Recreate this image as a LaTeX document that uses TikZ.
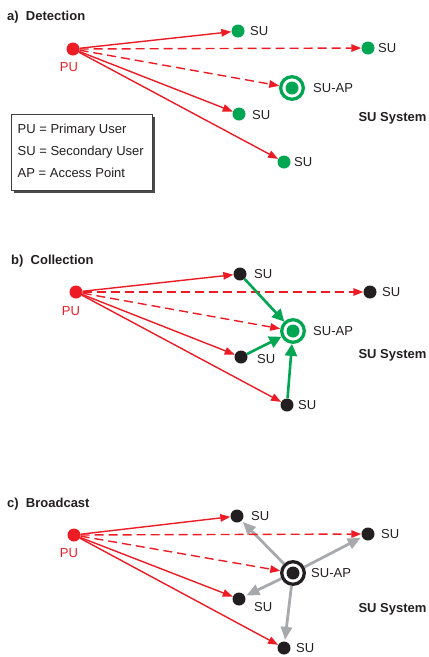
\documentclass[tikz,border=0pt]{standalone}
\usepackage{fontspec}
\setmainfont{Liberation Sans}
\usetikzlibrary{arrows.meta,shadows}
\definecolor{myred}{RGB}{237,28,36}
\definecolor{mygreen}{RGB}{0,166,81}
\definecolor{myblack}{RGB}{35,31,32}
\definecolor{mygray}{RGB}{167,169,172}
\begin{document}
\begin{tikzpicture}[x=1pt,y=-1pt,
  every node/.style={font=\fontsize{13}{15}\selectfont, inner sep=0pt},
  dotnode/.style={circle, minimum size=13pt, inner sep=0pt},
  pudot/.style={dotnode, fill=myred},
  gdot/.style={dotnode, fill=mygreen},
  kdot/.style={dotnode, fill=myblack},
  apring/.style={circle, minimum size=22.6pt, line width=3.3pt, inner sep=0pt},
  lbl/.style={anchor=west, text=myblack, text height=9.4pt, text depth=0pt},
  pulbl/.style={text=myred, text height=9.4pt, text depth=0pt},
  sys/.style={text=myblack, text height=9.4pt, text depth=0pt, font=\fontsize{13}{15}\selectfont\bfseries},
  ttl/.style={anchor=west, text=myblack, text height=9.4pt, text depth=0pt, font=\fontsize{13}{15}\selectfont\bfseries},
  legbox/.style={anchor=north west, draw=black!75, line width=0.8pt, fill=white, minimum width=141pt, minimum height=76pt,
    drop shadow={shadow xshift=3pt, shadow yshift=-3pt, fill=black!70, opacity=1}},
  rarrow/.style={draw=myred, line width=1.4pt, -{Triangle[length=10pt,width=7.5pt]}},
  rdash/.style={rarrow, dash pattern=on 9pt off 5pt},
  garrow/.style={draw=mygreen, line width=2.6pt, -{Triangle[length=12pt,width=12pt]}},
  karrow/.style={draw=mygray, line width=2.8pt, -{Triangle[length=13pt,width=11pt]}, shorten >=1.5pt},
]
\useasboundingbox (0,0) rectangle (429,657);

% ---------------- a) Detection ----------------
\node[ttl] (ta) at (7,16) {a)\ \ Detection};
\node[pudot] (pua) at (73,49) {};
\node[pulbl] (pula) at (69,67) {PU};
\node[gdot] (a1) at (238,31) {};
\node[lbl] (a1l) at (250,31) {SU};
\node[gdot] (a2) at (368,48) {};
\node[lbl] (a2l) at (378,48) {SU};
\node[gdot] (aapc) at (292,88) {};
\node[apring, draw=mygreen] (aap) at (292,88) {};
\node[lbl] (aapl) at (313,88) {SU-AP};
\node[gdot] (a3) at (239,114) {};
\node[lbl] (a3l) at (252,115) {SU};
\node[gdot] (a4) at (284,162) {};
\node[lbl] (a4l) at (294,162) {SU};
\node[sys] (asys) at (392.5,117) {SU System};

\node[legbox] (leg) at (11,114) {};
\node[lbl] (leg1) at (17.5,129) {PU = Primary User};
\node[lbl] (leg2) at (17.5,151) {SU = Secondary User};
\node[lbl] (leg3) at (17.5,173) {AP = Access Point};

\draw[rarrow] (pua) -- (a1);
\draw[rdash] (pua) -- (a2);
\draw[rdash] (pua) -- (aap);
\draw[rarrow] (pua) -- (a3);
\draw[rarrow] (pua) -- (a4);

% ---------------- b) Collection ----------------
\node[ttl] (tb) at (11,260) {b)\ \ Collection};
\node[pudot] (pub) at (76,292) {};
\node[pulbl] (pulb) at (71,311) {PU};
\node[kdot] (b1) at (240,274) {};
\node[lbl] (b1l) at (254,274) {SU};
\node[kdot] (b2) at (370,292) {};
\node[lbl] (b2l) at (382,292) {SU};
\node[gdot] (bapc) at (293,331) {};
\node[apring, draw=mygreen] (bap) at (293,331) {};
\node[lbl] (bapl) at (313,331) {SU-AP};
\node[kdot] (b3) at (241,357) {};
\node[lbl] (b3l) at (257,359) {SU};
\node[kdot] (b4) at (287,405) {};
\node[lbl] (b4l) at (298,405) {SU};
\node[sys] (bsys) at (392.5,354) {SU System};

\draw[rarrow] (pub) -- (b1);
\draw[rdash] (pub) -- (b2);
\draw[rdash] (pub) -- (bap);
\draw[rarrow] (pub) -- (b3);
\draw[rarrow] (pub) -- (b4);
\draw[garrow] (b1) -- (bap);
\draw[garrow] (b3) -- (bap);
\draw[garrow] (b4) -- (bap);

% ---------------- c) Broadcast ----------------
\node[ttl] (tc) at (7,503) {c)\ \ Broadcast};
\node[pudot] (puc) at (74,535) {};
\node[pulbl] (pulc) at (69,553) {PU};
\node[kdot] (c1) at (237,516) {};
\node[lbl] (c1l) at (251,516) {SU};
\node[kdot] (c2) at (368,534) {};
\node[lbl] (c2l) at (381,534) {SU};
\node[kdot] (capc) at (293,573) {};
\node[apring, draw=myblack] (cap) at (293,573) {};
\node[lbl] (capl) at (311,573) {SU-AP};
\node[kdot] (c3) at (239,599) {};
\node[lbl] (c3l) at (254,607) {SU};
\node[kdot] (c4) at (284,648) {};
\node[lbl] (c4l) at (296,648) {SU};
\node[sys] (csys) at (392.5,608) {SU System};

\draw[karrow] (cap) -- (c1);
\draw[karrow] (cap) -- (c2);
\draw[karrow] (cap) -- (c3);
\draw[karrow] (cap) -- (c4);
\draw[rarrow] (puc) -- (c1);
\draw[rdash] (puc) -- (c2);
\draw[rdash] (puc) -- (cap);
\draw[rarrow] (puc) -- (c3);
\draw[rarrow] (puc) -- (c4);
\end{tikzpicture}
\end{document}
